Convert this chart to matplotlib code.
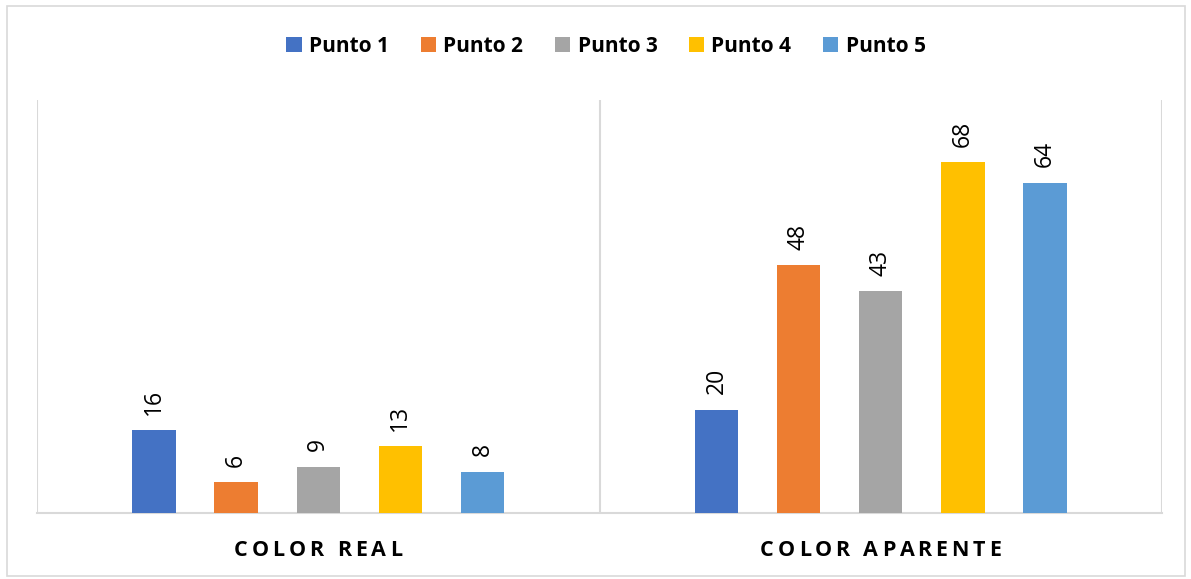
import numpy as np
import matplotlib.pyplot as plt
from matplotlib.patches import Rectangle

categorias = ["COLOR REAL", "COLOR APARENTE"]
puntos = ["Punto 1", "Punto 2", "Punto 3", "Punto 4", "Punto 5"]
valores = [
    [16, 20],   # Punto 1
    [6, 48],    # Punto 2
    [9, 43],    # Punto 3
    [13, 68],   # Punto 4
    [8, 64],    # Punto 5
]
colores = ["#4472C4", "#ED7D31", "#A5A5A5", "#FFC000", "#5B9BD5"]

plt.rcParams['font.family'] = ['Open Sans', 'DejaVu Sans']

W, H = 1191, 579
fig = plt.figure(figsize=(W / 100, H / 100), dpi=100)
fig.patch.set_facecolor("white")
renderer = fig.canvas.get_renderer()

# borde del area del grafico
fig.add_artist(Rectangle((7 / W, 3 / H), (W - 13) / W, (H - 9) / H,
                         transform=fig.transFigure, fill=False,
                         edgecolor="#D9D9D9", linewidth=1.2))

ax = fig.add_axes([37 / W, (H - 513) / H, (1162 - 37) / W, (513 - 100) / H])

x = np.arange(len(categorias))
paso = 0.146
ancho = 0.077
for i, (nombre, vals) in enumerate(zip(puntos, valores)):
    pos = x + (i - 2) * paso
    barras = ax.bar(pos, vals, ancho, color=colores[i], label=nombre, zorder=3)
    for b, v in zip(barras, vals):
        ax.annotate(str(v), (b.get_x() + b.get_width() / 2, b.get_height()),
                    xytext=(0, 11), textcoords="offset points",
                    ha="center", va="bottom", rotation=90, fontsize=16.5,
                    color="#000000")

ax.set_xlim(-0.5, 1.5)
ax.set_ylim(0, 80)
ax.set_yticks([])
ax.set_xticks([])
for lado in ["top", "right", "left"]:
    ax.spines[lado].set_visible(False)
ax.spines["bottom"].set_color("#D9D9D9")
ax.spines["bottom"].set_linewidth(1.5)

# separadores entre categorias
for xs in [-0.5, 0.5, 1.5]:
    ax.axvline(xs, color="#D9D9D9", linewidth=1.5, zorder=1)


def ancho_px(s, **kw):
    t = fig.text(0, 0, s, **kw)
    w = t.get_window_extent(renderer).width
    t.remove()
    return w


def texto_espaciado(xc_px, yc_px, s, esp, **kw):
    # dibuja letra por letra con espacio extra entre caracteres
    total = ancho_px(s, **kw) + esp * (len(s) - 1)
    x0 = xc_px - total / 2
    for k, ch in enumerate(s):
        if ch == " ":
            continue
        xk = x0 + ancho_px(s[:k], **kw) if k else x0
        xk += esp * k
        fig.text(xk / W, yc_px / H, ch, ha="left", va="center", **kw)


estilo_cat = dict(fontsize=15.5, fontweight="bold")
for xi, cat in zip(x, categorias):
    xc = ax.transData.transform((xi, 0))[0]
    texto_espaciado(xc, H - 550, cat, 4.0, **estilo_cat)

leg = fig.legend(loc="center", bbox_to_anchor=(606 / W, 1 - 46 / H), ncol=5,
                 frameon=False, handlelength=0.75, handleheight=0.75,
                 handletextpad=0.35, columnspacing=1.5,
                 prop={"size": 15, "weight": "bold"})

fig.savefig("out.png", dpi=100, facecolor="white")
